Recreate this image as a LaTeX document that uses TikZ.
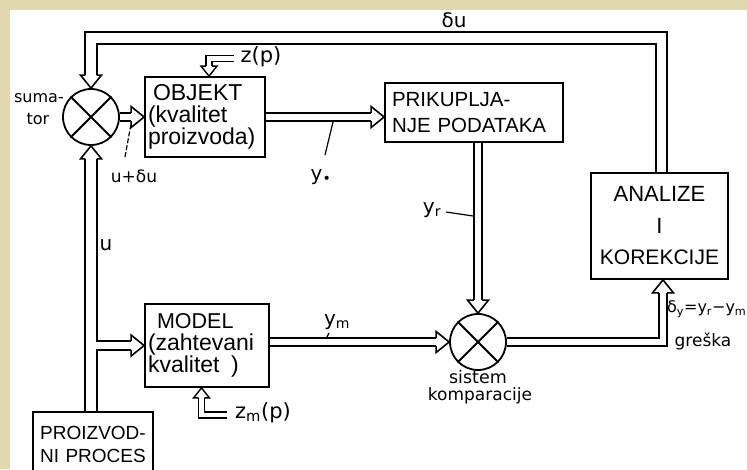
\documentclass[tikz,border=0pt]{standalone}
\usepackage{fontspec}
\setmainfont{DejaVu Sans}
\newfontfamily\boxf{Liberation Sans}
\definecolor{parch}{RGB}{226,216,174}
\newcommand\myfs[2]{\fontsize{#1}{#2}\selectfont}
\tikzset{
  box/.style={draw, line width=1.8pt, inner sep=3pt, align=left},
  sumnode/.style={draw, circle, line width=1.8pt, minimum size=56pt, inner sep=0pt},
  pipe/.style={draw=black, line width=1.8pt, double=white, double distance=6.5pt, line join=miter, shorten >=13pt},
  widepipe/.style={pipe, double distance=9.5pt},
  midpipe/.style={pipe, double distance=7.5pt},
  spipe/.style={draw=black, line width=1.4pt, double=white, double distance=4.5pt, line join=miter, shorten >=10pt},
  pics/phead/.style={code={\draw[line width=1.6pt, line join=miter] (-13,#1) -- (-13,10.5) -- (0,0) -- (-13,-10.5) -- (-13,-#1);}},
  pics/shead/.style={code={\draw[line width=1.4pt, line join=miter] (-10,2.95) -- (-10,8) -- (0,0) -- (-10,-8) -- (-10,-2.95);}},
  lbl/.style={inner sep=0pt},
  leader/.style={line width=1.2pt},
}
\begin{document}
\begin{tikzpicture}[x=1pt,y=-1pt]
\useasboundingbox (0,0) rectangle (747,469);
\fill[parch] (0,0) rectangle (747,469);
\fill[white] (10,10) rectangle (747,469);
\begin{scope}
\clip (10,10) rectangle (747,469);

% blocks
\node[sumnode] (sum) at (91,117) {};
\draw[line width=1.8pt] (sum.north west) -- (sum.south east) (sum.north east) -- (sum.south west);
\node[sumnode] (cmp) at (478,342) {};
\draw[line width=1.8pt] (cmp.north west) -- (cmp.south east) (cmp.north east) -- (cmp.south west);

\node[box, font=\boxf\myfs{23}{22}, minimum width=120pt, minimum height=80pt, text width=114pt] (obj) at (205,117)
  {\hspace*{5pt}OBJEKT\\(kvalitet\\proizvoda)};
\node[box, font=\boxf\myfs{20.5}{25.5}, minimum width=178pt, minimum height=59pt, text width=164pt, inner xsep=7pt] (pri) at (474,112.5)
  {PRIKUPLJA-\\NJE PODATAKA};
\node[box, align=center, font=\boxf\myfs{22}{31.5}, minimum width=137pt, minimum height=106pt, text width=131pt] (ana) at (659.5,226)
  {ANALIZE\\I\\{\myfs{21}{31.5}KOREKCIJE}};
\node[box, font=\boxf\myfs{23}{22}, minimum width=124pt, minimum height=83pt, text width=118pt] (mod) at (207,345.5)
  {{\myfs{21.5}{22}\hspace*{9pt}MODEL}\\(zahtevani\\kvalitet \hspace{4pt})};
\node[box, align=center, font=\boxf\myfs{19}{23}, minimum width=120pt, minimum height=65pt, text width=114pt, anchor=north] (pro) at (93,411)
  {PROIZVOD-\\NI PROCES};

% coordinates
\coordinate (fbR) at (661.5,38);
\coordinate (c2a) at (663,343);
\path (sum.south |- mod.west) ++(4.75,0) coordinate (ub);
\coordinate (zs) at (234,58.5);
\coordinate (zc) at (209,58.5);
\coordinate (zms) at (227,415);
\coordinate (zmc) at (201.5,415);

% pipes
\draw[widepipe] (fbR |- ana.north) -- (fbR) -- (fbR -| sum.north) -- (sum.north);
\pic[rotate=-90] at (sum.north) {phead=5.65};
\draw[pipe] (sum.east) -- (obj.west);
\pic at (obj.west) {phead=4.15};
\draw[pipe] (obj.east) -- (obj.east -| pri.west);
\pic at (obj.east -| pri.west) {phead=4.15};
\draw[pipe] (cmp.north |- pri.south) -- (cmp.north);
\pic[rotate=-90] at (cmp.north) {phead=4.15};
\draw[pipe] (cmp.west -| mod.east) -- (cmp.west);
\pic at (cmp.west) {phead=4.15};
\draw[pipe] (cmp.east) -- (cmp.east -| c2a) -- (c2a |- ana.south);
\pic[rotate=90] at (c2a |- ana.south) {phead=4.15};
\draw[widepipe] (pro.north -| sum.south) -- (sum.south);
\pic[rotate=90] at (sum.south) {phead=5.65};
\draw[midpipe] (ub) -- (mod.west);
\pic at (mod.west) {phead=4.65};
\draw[spipe] (zs) -- (zc) -- (zc |- obj.north);
\pic[rotate=-90] at (zc |- obj.north) {shead};
\draw[spipe] (zms) -- (zmc) -- (zmc |- mod.south);
\pic[rotate=90] at (zmc |- mod.south) {shead};

% labels
\node[lbl, font=\myfs{20}{20}] (du) at (454,20) {δu};
\node[lbl, font=\myfs{21}{21}] (zp) at (261,57) {z(p)};
\node[lbl, font=\myfs{21}{21}] (zm) at (263,413) {z\textsubscript{m}(p)};
\node[lbl, font=\myfs{16}{16}, anchor=east] (suma) at (64,98) {suma-};
\node[lbl, font=\myfs{16}{16}] (tor) at (38,119) {tor};
\node[lbl, font=\myfs{17}{17}] (upd) at (134,176) {u+δu};
\node[lbl, font=\myfs{20}{20}] (y0) at (321,177) {y\textsubscript{•}};
\node[lbl, font=\myfs{20}{20}] (yr) at (432,210) {y\textsubscript{r}};
\node[lbl, font=\myfs{20}{20}] (ym) at (337,322) {y\textsubscript{m}};
\node[lbl, font=\myfs{20}{20}] (u) at (106,245) {u};
\node[lbl, font=\myfs{17.5}{17.5}] (sis) at (478,377) {sistem};
\node[lbl, font=\myfs{17}{17}] (kom) at (480,396) {komparacije};
\node[lbl, font=\myfs{16}{16}, anchor=west] (dy) at (667,309) {δ\textsubscript{y}=y\textsubscript{r}−y\textsubscript{m}};
\node[lbl, font=\myfs{17}{17}] (gr) at (703,341) {greška};

% leader lines
\draw[leader, dash pattern=on 5pt off 2pt] (125,157) -- (131,124);
\draw[leader] (325,155) -- (333,122);
\draw[leader] (446,212) -- (473,216);
\draw[leader] (329,333) -- (326,339);
\end{scope}
\end{tikzpicture}
\end{document}
